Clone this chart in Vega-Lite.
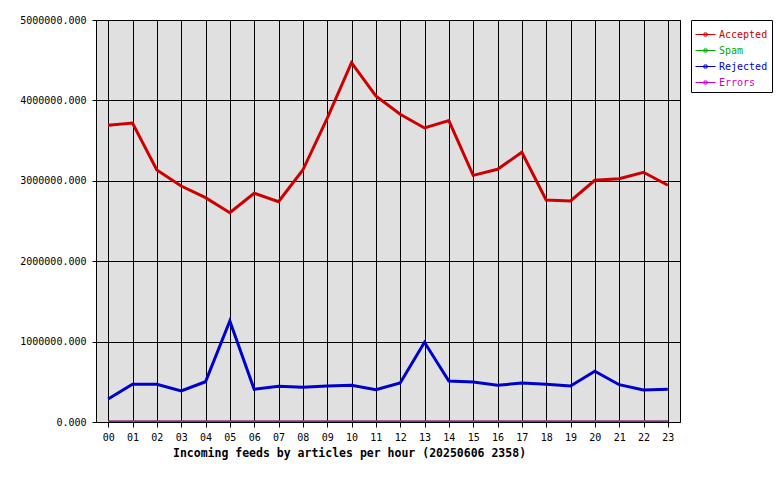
{
  "$schema": "https://vega.github.io/schema/vega-lite/v6.json",
  "width": 584,
  "height": 402,
  "autosize": "none",
  "padding": {"left": 96, "top": 20, "right": 100, "bottom": 58},
  "background": "white",
  "config": {
    "view": {"fill": "#e0e0e0", "stroke": "black", "strokeWidth": 1},
    "font": "DejaVu Sans Mono"
  },
  "datasets": {
    "feeds": [
      {"hour": "00", "type": "Accepted", "value": 3690000},
      {"hour": "01", "type": "Accepted", "value": 3719000},
      {"hour": "02", "type": "Accepted", "value": 3134000},
      {"hour": "03", "type": "Accepted", "value": 2935000},
      {"hour": "04", "type": "Accepted", "value": 2790000},
      {"hour": "05", "type": "Accepted", "value": 2603000},
      {"hour": "06", "type": "Accepted", "value": 2845000},
      {"hour": "07", "type": "Accepted", "value": 2740000},
      {"hour": "08", "type": "Accepted", "value": 3134000},
      {"hour": "09", "type": "Accepted", "value": 3777000},
      {"hour": "10", "type": "Accepted", "value": 4469000},
      {"hour": "11", "type": "Accepted", "value": 4055000},
      {"hour": "12", "type": "Accepted", "value": 3827000},
      {"hour": "13", "type": "Accepted", "value": 3657000},
      {"hour": "14", "type": "Accepted", "value": 3748000},
      {"hour": "15", "type": "Accepted", "value": 3068000},
      {"hour": "16", "type": "Accepted", "value": 3143000},
      {"hour": "17", "type": "Accepted", "value": 3354000},
      {"hour": "18", "type": "Accepted", "value": 2761000},
      {"hour": "19", "type": "Accepted", "value": 2749000},
      {"hour": "20", "type": "Accepted", "value": 3006000},
      {"hour": "21", "type": "Accepted", "value": 3026000},
      {"hour": "22", "type": "Accepted", "value": 3106000},
      {"hour": "23", "type": "Accepted", "value": 2944000},
      {"hour": "00", "type": "Spam", "value": 0},
      {"hour": "01", "type": "Spam", "value": 0},
      {"hour": "02", "type": "Spam", "value": 0},
      {"hour": "03", "type": "Spam", "value": 0},
      {"hour": "04", "type": "Spam", "value": 0},
      {"hour": "05", "type": "Spam", "value": 0},
      {"hour": "06", "type": "Spam", "value": 0},
      {"hour": "07", "type": "Spam", "value": 0},
      {"hour": "08", "type": "Spam", "value": 0},
      {"hour": "09", "type": "Spam", "value": 0},
      {"hour": "10", "type": "Spam", "value": 0},
      {"hour": "11", "type": "Spam", "value": 0},
      {"hour": "12", "type": "Spam", "value": 0},
      {"hour": "13", "type": "Spam", "value": 0},
      {"hour": "14", "type": "Spam", "value": 0},
      {"hour": "15", "type": "Spam", "value": 0},
      {"hour": "16", "type": "Spam", "value": 0},
      {"hour": "17", "type": "Spam", "value": 0},
      {"hour": "18", "type": "Spam", "value": 0},
      {"hour": "19", "type": "Spam", "value": 0},
      {"hour": "20", "type": "Spam", "value": 0},
      {"hour": "21", "type": "Spam", "value": 0},
      {"hour": "22", "type": "Spam", "value": 0},
      {"hour": "23", "type": "Spam", "value": 0},
      {"hour": "00", "type": "Rejected", "value": 286000},
      {"hour": "01", "type": "Rejected", "value": 469000},
      {"hour": "02", "type": "Rejected", "value": 469000},
      {"hour": "03", "type": "Rejected", "value": 386000},
      {"hour": "04", "type": "Rejected", "value": 501000},
      {"hour": "05", "type": "Rejected", "value": 1256000},
      {"hour": "06", "type": "Rejected", "value": 407000},
      {"hour": "07", "type": "Rejected", "value": 444000},
      {"hour": "08", "type": "Rejected", "value": 432000},
      {"hour": "09", "type": "Rejected", "value": 448000},
      {"hour": "10", "type": "Rejected", "value": 456000},
      {"hour": "11", "type": "Rejected", "value": 402000},
      {"hour": "12", "type": "Rejected", "value": 485000},
      {"hour": "13", "type": "Rejected", "value": 991000},
      {"hour": "14", "type": "Rejected", "value": 510000},
      {"hour": "15", "type": "Rejected", "value": 497000},
      {"hour": "16", "type": "Rejected", "value": 456000},
      {"hour": "17", "type": "Rejected", "value": 485000},
      {"hour": "18", "type": "Rejected", "value": 469000},
      {"hour": "19", "type": "Rejected", "value": 448000},
      {"hour": "20", "type": "Rejected", "value": 631000},
      {"hour": "21", "type": "Rejected", "value": 464000},
      {"hour": "22", "type": "Rejected", "value": 398000},
      {"hour": "23", "type": "Rejected", "value": 407000},
      {"hour": "00", "type": "Errors", "value": 0},
      {"hour": "01", "type": "Errors", "value": 0},
      {"hour": "02", "type": "Errors", "value": 0},
      {"hour": "03", "type": "Errors", "value": 0},
      {"hour": "04", "type": "Errors", "value": 0},
      {"hour": "05", "type": "Errors", "value": 0},
      {"hour": "06", "type": "Errors", "value": 0},
      {"hour": "07", "type": "Errors", "value": 0},
      {"hour": "08", "type": "Errors", "value": 0},
      {"hour": "09", "type": "Errors", "value": 0},
      {"hour": "10", "type": "Errors", "value": 0},
      {"hour": "11", "type": "Errors", "value": 0},
      {"hour": "12", "type": "Errors", "value": 0},
      {"hour": "13", "type": "Errors", "value": 0},
      {"hour": "14", "type": "Errors", "value": 0},
      {"hour": "15", "type": "Errors", "value": 0},
      {"hour": "16", "type": "Errors", "value": 0},
      {"hour": "17", "type": "Errors", "value": 0},
      {"hour": "18", "type": "Errors", "value": 0},
      {"hour": "19", "type": "Errors", "value": 0},
      {"hour": "20", "type": "Errors", "value": 0},
      {"hour": "21", "type": "Errors", "value": 0},
      {"hour": "22", "type": "Errors", "value": 0},
      {"hour": "23", "type": "Errors", "value": 0}
    ]
  },
  "data": {"name": "feeds"},
  "mark": {"type": "line", "strokeWidth": 3, "strokeJoin": "miter", "clip": true},
  "encoding": {
    "x": {
      "field": "hour",
      "type": "ordinal",
      "scale": {"type": "point", "padding": 0.5},
      "axis": {
        "title": "Incoming feeds by articles per hour (20250606 2358)",
        "titleFont": "DejaVu Sans Mono",
        "titleFontSize": 11.5,
        "titleFontWeight": "bold",
        "titleColor": "black",
        "titleX": 253,
        "titleY": 34,
        "titleAlign": "center",
        "titleBaseline": "alphabetic",
        "labelAngle": 0,
        "labelFont": "DejaVu Sans Mono",
        "labelFontSize": 10,
        "labelColor": "black",
        "labelPadding": 5,
        "tickColor": "black",
        "tickSize": 5,
        "domain": false,
        "grid": true,
        "gridColor": "black",
        "gridOpacity": 1,
        "gridWidth": 1
      }
    },
    "y": {
      "field": "value",
      "type": "quantitative",
      "scale": {"domain": [0, 5000000], "nice": false},
      "axis": {
        "title": null,
        "values": [0, 1000000, 2000000, 3000000, 4000000, 5000000],
        "format": ".3f",
        "labelFont": "DejaVu Sans Mono",
        "labelFontSize": 10,
        "labelColor": "black",
        "labelPadding": 6,
        "tickColor": "black",
        "tickSize": 4,
        "domain": false,
        "grid": true,
        "gridColor": "black",
        "gridOpacity": 1,
        "gridWidth": 1
      }
    },
    "color": {
      "field": "type",
      "type": "nominal",
      "sort": ["Accepted", "Spam", "Rejected", "Errors"],
      "scale": {
        "domain": ["Accepted", "Spam", "Rejected", "Errors"],
        "range": ["#cc0000", "#00aa00", "#0000cc", "#cc00cc"]
      },
      "legend": {
        "title": null,
        "orient": "none",
        "legendX": 595,
        "legendY": 0,
        "strokeColor": "black",
        "fillColor": "white",
        "padding": 4,
        "rowPadding": -6,
        "symbolType": "M-1,0H1M-0.15,-0.15H0.15V0.15H-0.15Z",
        "symbolSize": 400,
        "symbolStrokeWidth": 1,
        "symbolFillColor": "transparent",
        "labelFont": "DejaVu Sans Mono",
        "labelFontSize": 10,
        "labelOffset": 3,
        "encode": {
          "labels": {"update": {"fill": {"scale": "color", "field": "value"}}}
        }
      }
    }
  }
}
